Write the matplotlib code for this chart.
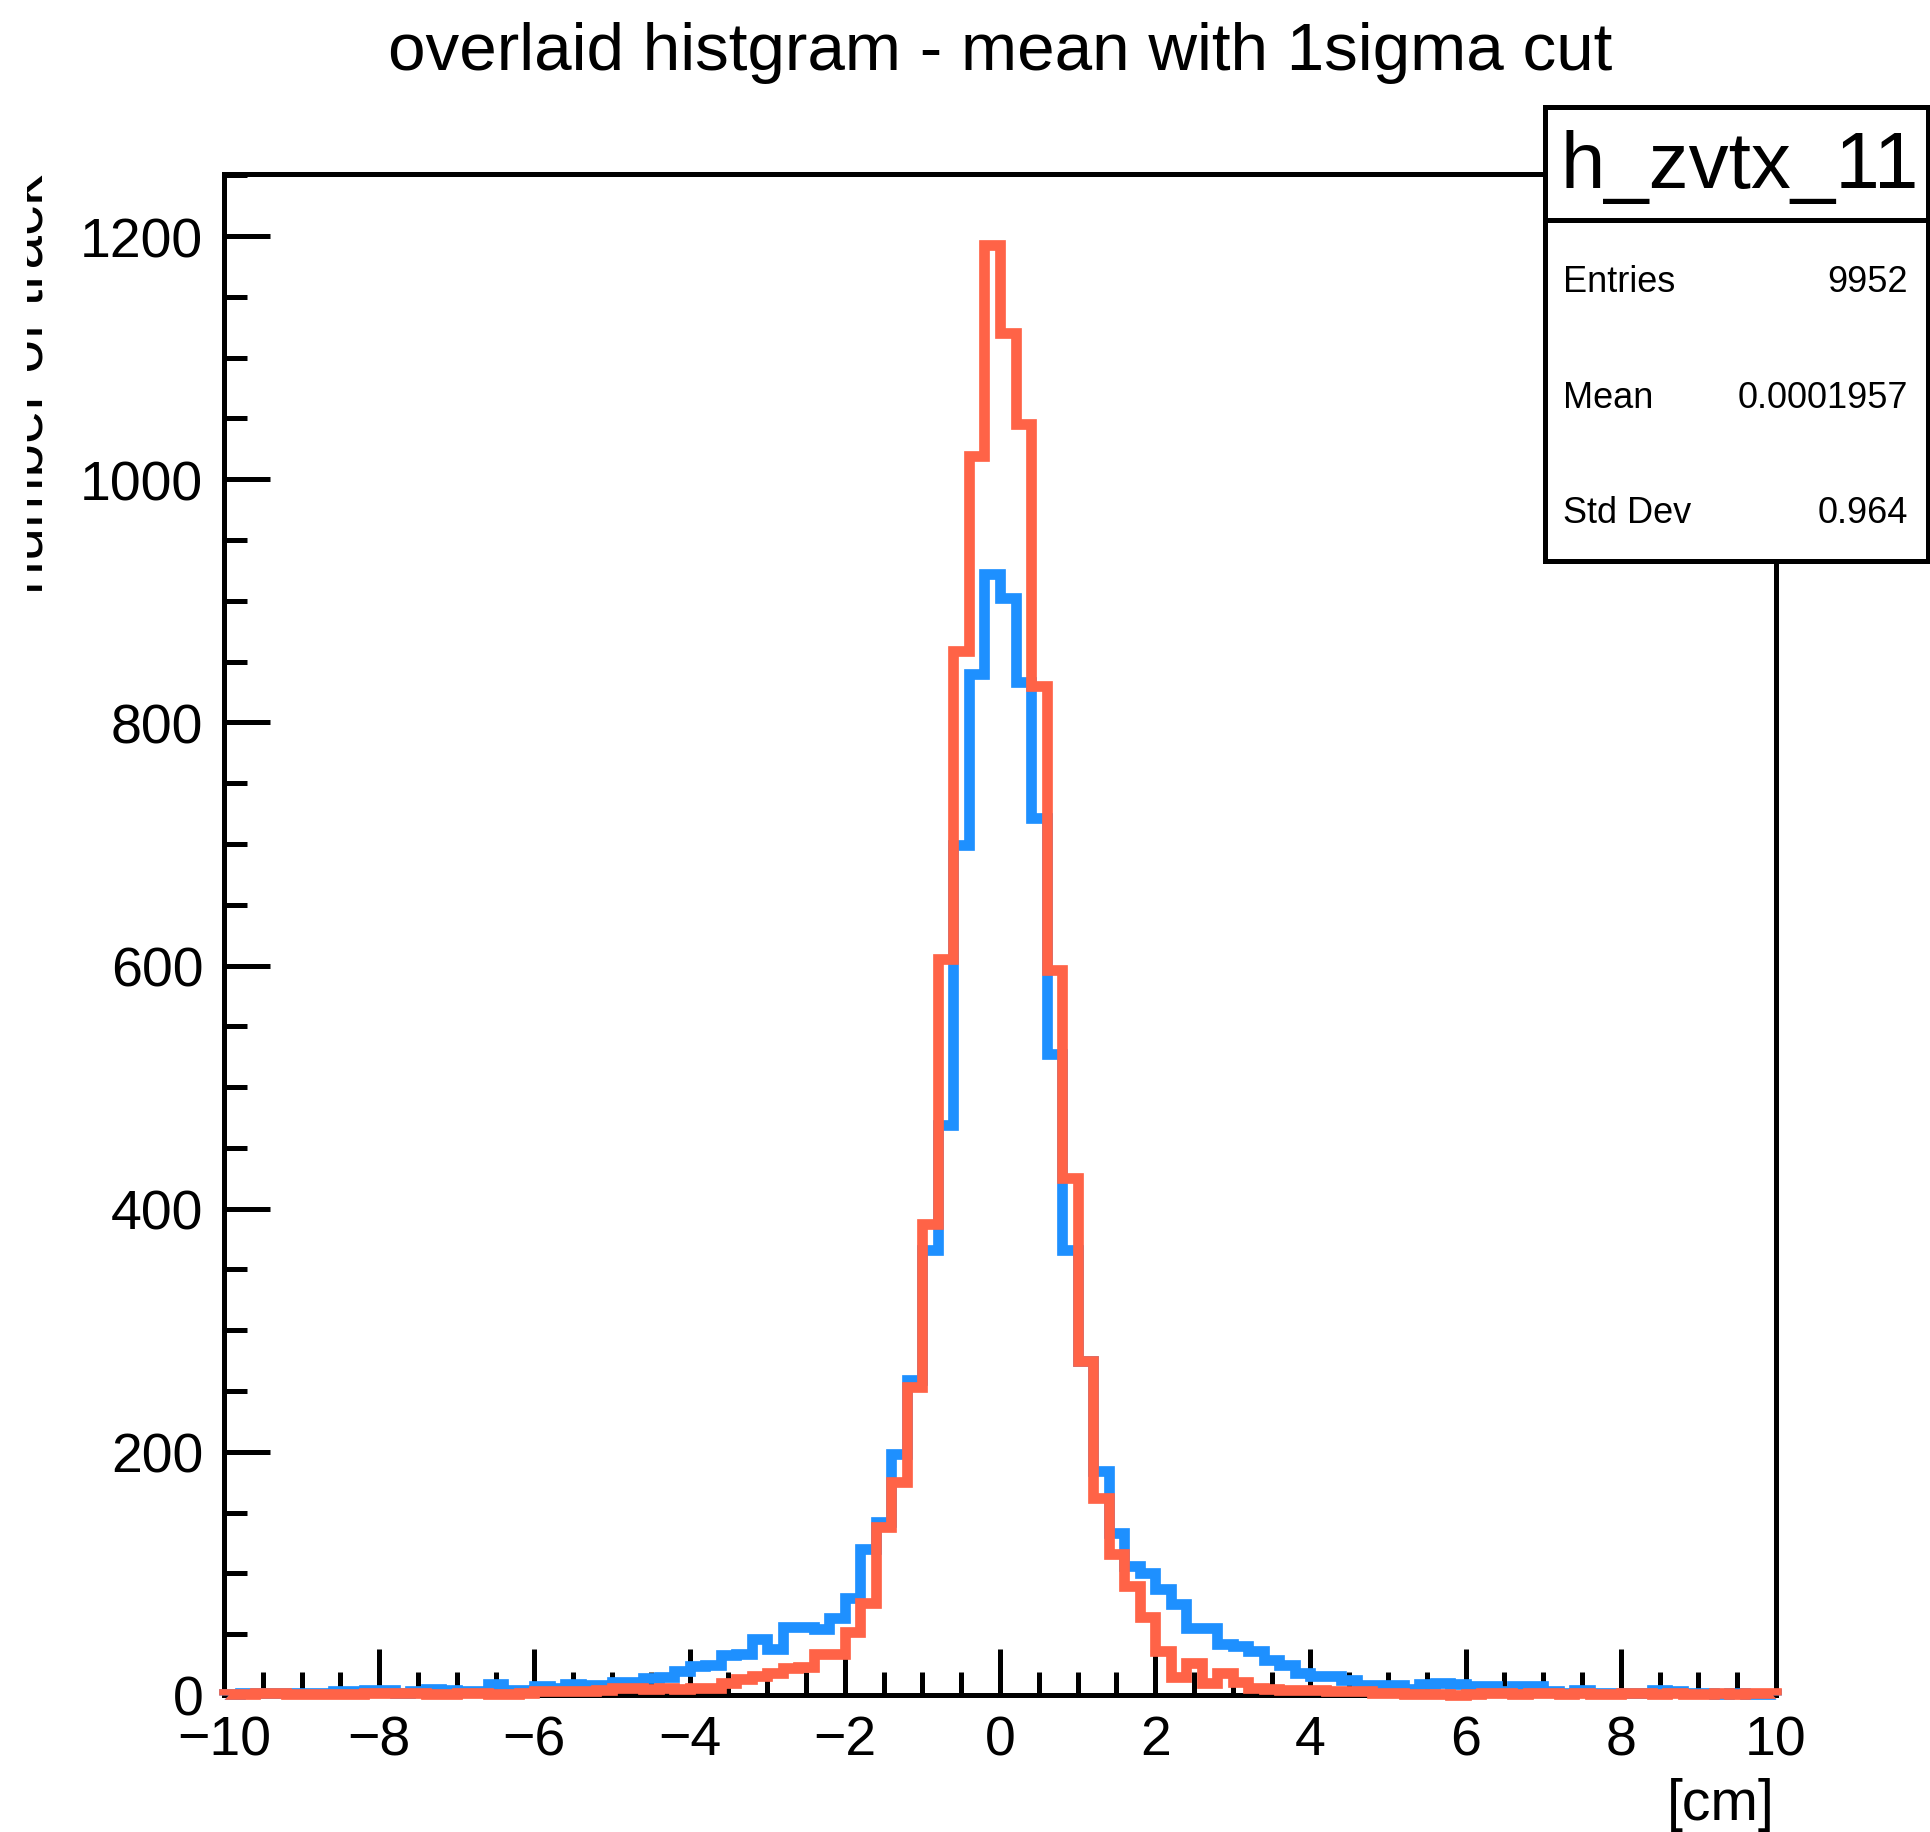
#!/usr/bin/env python3

import numpy as np
import matplotlib
matplotlib.use('Agg')
import matplotlib.pyplot as plt
from matplotlib.ticker import MultipleLocator
from matplotlib.patches import Rectangle
from matplotlib.lines import Line2D
from matplotlib.transforms import Bbox, TransformedBbox

plt.rcParams['font.family'] = ['Liberation Sans', 'DejaVu Sans']

W, H = 1931, 1833
DPI = 100

# 100 bins from -10 to 10 cm
X_MIN, X_MAX, N_BINS = -10, 10, 100

blue_counts = [
    1, 2, 2, 2, 2, 2, 2, 3, 3, 4,
    4, 2, 3, 5, 4, 3, 3, 9, 4, 4,
    7, 6, 9, 8, 8, 11, 11, 14, 15, 20,
    24, 25, 33, 34, 46, 38, 56, 56, 54, 63,
    80, 120, 142, 198, 259, 366, 469, 699, 840, 922,
    902, 833, 721, 527, 366, 275, 184, 133, 106, 100,
    87, 75, 55, 55, 42, 40, 36, 29, 25, 18,
    16, 16, 12, 8, 8, 8, 5, 9, 10, 9,
    7, 7, 3, 7, 7, 3, 2, 4, 2, 2,
    2, 2, 4, 3, 2, 2, 1, 2, 1, 1]

red_counts = [
    1, 1, 2, 2, 1, 1, 1, 1, 1, 2,
    2, 2, 2, 1, 1, 2, 2, 1, 1, 2,
    3, 3, 3, 3, 4, 6, 6, 5, 6, 5,
    6, 6, 10, 13, 16, 18, 22, 23, 34, 34,
    52, 76, 138, 175, 253, 387, 605, 859, 1019, 1193,
    1120, 1045, 830, 596, 425, 275, 162, 116, 90, 64,
    36, 15, 26, 10, 18, 11, 6, 5, 4, 4,
    4, 3, 3, 3, 2, 2, 1, 1, 1, 0,
    1, 2, 2, 1, 2, 2, 1, 2, 1, 1,
    2, 2, 1, 2, 1, 1, 2, 1, 2, 2]

stats_name = 'h_zvtx_11'
stats_rows = [('Entries', '9952'), ('Mean', '0.0001957'), ('Std Dev', '0.964')]


def fx(px):
    return px / W


def fy(py):
    return 1 - py / H


fig = plt.figure(figsize=(W / DPI, H / DPI), dpi=DPI)
ax = fig.add_axes([fx(224), fy(1696), fx(1776) - fx(224), fy(175) - fy(1696)])

edges = np.linspace(X_MIN, X_MAX, N_BINS + 1)
ax.stairs(blue_counts, edges, color='#1E90FF', linewidth=7.7, joinstyle='miter',
          baseline=0, zorder=3, clip_on=False)
ax.stairs(red_counts, edges, color='#FF6347', linewidth=7.7, joinstyle='miter',
          baseline=0, zorder=4, clip_on=False)

ax.set_xlim(X_MIN, X_MAX)
ax.set_ylim(0, 1251)

for s in ax.spines.values():
    s.set_linewidth(3.6)
ax.xaxis.set_major_locator(MultipleLocator(2))
ax.xaxis.set_minor_locator(MultipleLocator(0.5))
ax.yaxis.set_major_locator(MultipleLocator(200))
ax.yaxis.set_minor_locator(MultipleLocator(50))
ax.tick_params(which='both', direction='in', width=3.6, top=False, right=False,
               labelsize=40)
ax.tick_params(which='major', length=33)
ax.tick_params(which='minor', length=16.5)
ax.tick_params(axis='x', pad=14)
ax.tick_params(axis='y', pad=15)

# title
fig.text(fx(1000), fy(70), 'overlaid histgram - mean with 1sigma cut',
         ha='center', va='baseline', fontsize=48.5)

# axis titles (ROOT style: aligned at the axis end)
fig.text(fx(1775), fy(1820), '[cm]', ha='right', va='baseline', fontsize=41)
ylab = fig.text(fx(43), fy(174), 'number of track', rotation=90,
                rotation_mode='anchor', ha='right', va='baseline', fontsize=43.5)
ylab.set_clip_on(True)
ylab.set_clip_box(TransformedBbox(Bbox([[fx(27), 0], [fx(200), 1]]), fig.transFigure))

# stats box
bx0, bx1, by0, by1, bsep = 1545, 1928.5, 107.5, 561.5, 220.5
fig.add_artist(Rectangle((fx(bx0), fy(by1)), fx(bx1) - fx(bx0), fy(by0) - fy(by1),
                         transform=fig.transFigure, facecolor='white',
                         edgecolor='black', linewidth=3.6, zorder=10))
fig.add_artist(Line2D([fx(bx0), fx(bx1)], [fy(bsep), fy(bsep)],
                      transform=fig.transFigure, color='black', linewidth=3.6, zorder=11))
fig.text(fx(1740), fy(188), stats_name, ha='center', va='baseline',
         fontsize=57.5, zorder=12)
for i, (lab, val) in enumerate(stats_rows):
    yb = fy(292 + i * 115.5)
    fig.text(fx(1563), yb, lab, ha='left', va='baseline', fontsize=26, zorder=12)
    fig.text(fx(1908), yb, val, ha='right', va='baseline', fontsize=26, zorder=12)

fig.savefig('out.png', dpi=DPI, facecolor='white')
